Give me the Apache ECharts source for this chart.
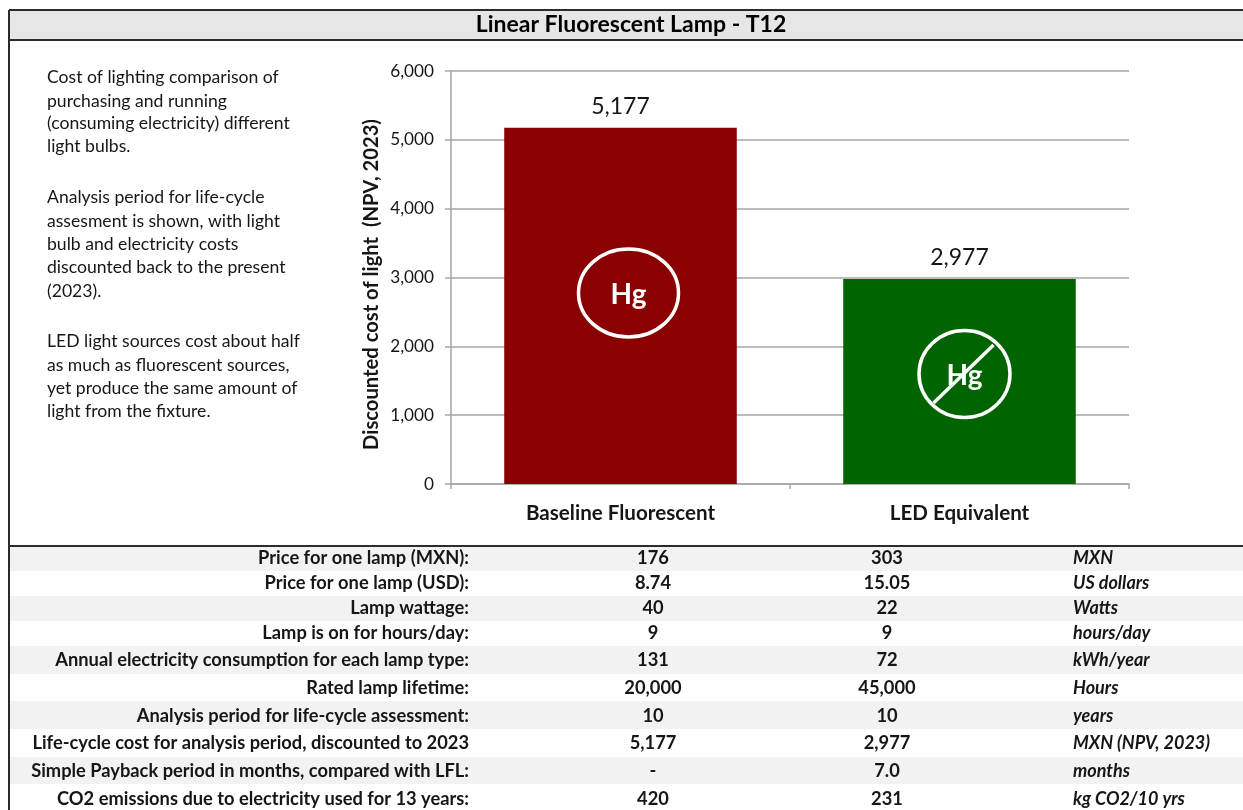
<!DOCTYPE html>
<html>
<head>
<meta charset="utf-8">
<style>html,body{margin:0;padding:0;background:#fff}#c{width:1243px;height:810px}</style>
<script src="https://cdn.jsdelivr.net/npm/echarts@6/dist/echarts.min.js"></script>
</head>
<body>
<div id="c"></div>
<script>
const chartTitle = 'Linear Fluorescent Lamp - T12';
const categories = ['Baseline Fluorescent', 'LED Equivalent'];
const costValues = [5177, 2977];
const yTicks = [0, 1000, 2000, 3000, 4000, 5000, 6000];
const yAxisName = 'Discounted cost of light  (NPV, 2023)';
const badgeLevels = [2775, 1598];
const badgeText = 'Hg';
const noteLines = [
  'Cost of lighting comparison of', 'purchasing and running', '(consuming electricity) different', 'light bulbs.',
  'Analysis period for life-cycle', 'assesment is shown, with light', 'bulb and electricity costs', 'discounted back to the present', '(2023).',
  'LED light sources cost about half', 'as much as fluorescent sources,', 'yet produce the same amount of', 'light from the fixture.'
];
const rowLabels = [
  'Price for one lamp (MXN):', 'Price for one lamp (USD):', 'Lamp wattage:', 'Lamp is on for hours/day:',
  'Annual electricity consumption for each lamp type:', 'Rated lamp lifetime:',
  'Analysis period for life-cycle assessment:', 'Life-cycle cost for analysis period, discounted to 2023',
  'Simple Payback period in months, compared with LFL:', 'CO2 emissions due to electricity used for 13 years:'
];
const baselineCol = ['176', '8.74', '40', '9', '131', '20,000', '10', '5,177', '-', '420'];
const ledCol = ['303', '15.05', '22', '9', '72', '45,000', '10', '2,977', '7.0', '231'];
const unitCol = ['MXN', 'US dollars', 'Watts', 'hours/day', 'kWh/year', 'Hours', 'years', 'MXN (NPV, 2023)', 'months', 'kg CO2/10 yrs'];

const FONT = 'Lato, "Open Sans", sans-serif';
const INK = '#161616';
const GRID = '#a6a6a6';
const barColors = ['#8b0000', '#006400'];
const rowEdges = [547, 571, 596, 621, 646, 674, 701, 729, 757, 784, 810];
const rowMid = [558, 583, 608, 633, 660, 688, 716, 743, 771, 799];
const noteY = [77, 101, 123, 146, 197, 221, 244, 267, 291, 341, 365, 388, 411];

const graphics = [];
rowLabels.forEach((lab, i) => {
  const top = rowEdges[i], bot = rowEdges[i + 1], mid = rowMid[i];
  if (i % 2 === 0 && i < 9) graphics.push({type:'rect', z:1, shape:{x:10, y:top, width:1233, height:bot-top}, style:{fill:'#f2f2f2'}});
  const cell = (txt, x, align, extra) => graphics.push({type:'text', z:3, style:Object.assign({
    text:txt, x:x, y:mid, align:align, verticalAlign:'middle', fill:INK, font:'bold 18.3px ' + FONT}, extra||{})});
  cell(lab, 469, 'right');
  cell(baselineCol[i], 653, 'center');
  cell(ledCol[i], 887, 'center');
  cell(unitCol[i], 1073, 'left', {font:'italic bold 18px ' + FONT});
});
noteLines.forEach((t, i) => graphics.push({type:'text', z:3, style:{text:t, x:47, y:noteY[i], align:'left', verticalAlign:'middle', fill:INK, font:'17.6px ' + FONT}}));
graphics.push({type:'rect', z:1, shape:{x:9, y:10, width:1234, height:30}, style:{fill:'#e6e6e6'}});
graphics.push({type:'text', z:3, style:{text:chartTitle, x:631, y:25, align:'center', verticalAlign:'middle', fill:'#000', font:'bold 23px ' + FONT}});
[[9,10,1243,10],[9,40,1243,40],[9,546,1243,546],[9,10,9,810]].forEach(l =>
  graphics.push({type:'line', z:4, shape:{x1:l[0],y1:l[1],x2:l[2],y2:l[3]}, style:{stroke:'#2b2b2b', lineWidth:2}}));

const chart = echarts.init(document.getElementById('c'), null, {renderer:'canvas'});
chart.setOption({
  animation:false,
  backgroundColor:'#fff',
  graphic:graphics,
  grid:{left:451, top:71, width:678, height:413, containLabel:false},
  xAxis:{type:'category', data:categories,
    axisLine:{lineStyle:{color:GRID, width:1.5}},
    axisTick:{show:true, length:5, lineStyle:{color:GRID, width:1.5}},
    axisLabel:{color:INK, fontWeight:'bold', fontSize:20.6, fontFamily:FONT, margin:19}},
  yAxis:{type:'value', min:0, max:6000, interval:1000,
    name:yAxisName, nameLocation:'middle', nameGap:69, nameRotate:90, nameMoveOverlap:false,
    nameTextStyle:{color:INK, fontWeight:'bold', fontSize:20.2, fontFamily:FONT, padding:[0,14,0,0], align:'center', lineHeight:22},
    axisLine:{show:true, lineStyle:{color:GRID, width:1.5}},
    axisTick:{show:true, length:6, lineStyle:{color:GRID, width:1.5}},
    splitLine:{show:true, lineStyle:{color:GRID, width:1.5}},
    axisLabel:{color:INK, fontSize:17.2, fontFamily:FONT, margin:17,
      formatter:v => yTicks.includes(v) ? v.toLocaleString('en-US') : ''}},
  series:[
    {type:'bar', barWidth:'68.6%', z:3,
     data:costValues.map((v,i)=>({value:v, itemStyle:{color:barColors[i]}})),
     label:{show:true, position:'top', distance:10, color:INK, fontSize:23, fontFamily:FONT,
       formatter:p => p.value.toLocaleString('en-US')}},
    {type:'custom', z:6, silent:true, coordinateSystem:'cartesian2d',
     data:badgeLevels.map((v,i)=>[i, v]),
     encode:{x:0, y:1},
     renderItem:(params, api) => {
       const i = params.dataIndex;
       const p = api.coord([api.value(0), api.value(1)]);
       const cx = p[0] + (i === 0 ? 8 : 5);
       const rx = i === 0 ? 50 : 45.5, ry = i === 0 ? 44 : 43.5;
       const kids = [
         {type:'ellipse', shape:{cx:cx, cy:p[1], rx:rx, ry:ry}, style:{fill:'none', stroke:'#fff', lineWidth:3.5}},
         {type:'text', style:{text:badgeText, x:cx, y:p[1]+2, align:'center', verticalAlign:'middle', fill:'#fff', font:'bold 28px ' + FONT}}
       ];
       if (i === 1) kids.push({type:'line', shape:{x1:cx-31, y1:p[1]+29, x2:cx+29, y2:p[1]-29}, style:{stroke:'#fff', lineWidth:3.5}});
       return {type:'group', children:kids};
     }}
  ]
});
</script>
</body>
</html>
